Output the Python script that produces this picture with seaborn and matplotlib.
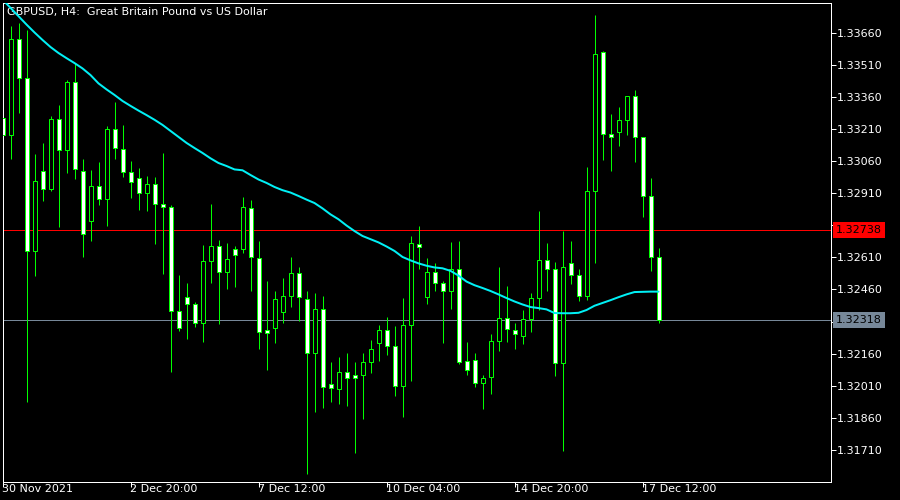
"""
GBPUSD H4 candlestick chart, MetaTrader style.
"""
import matplotlib
matplotlib.use("Agg")
import matplotlib.pyplot as plt
import seaborn as sns
import pandas as pd
import numpy as np

sns.set_theme(style="dark", rc={
    "axes.facecolor": "black",
    "figure.facecolor": "black",
    "axes.edgecolor": "white",
    "text.color": "white",
    "xtick.color": "white",
    "ytick.color": "white",
})
plt.rcParams["font.family"] = ["DejaVu Sans"]

COLORS = {
    "candle": "#00FF00",
    "bull_fill": "black",
    "bear_fill": "white",
    "ma": "#00F0F5",
    "ask": "#FF0000",
    "bid": "#778899",
}

TITLE = "GBPUSD, H4:  Great Britain Pound vs US Dollar"

opens = [1.33260, 1.33181, 1.33629, 1.33447, 1.32639, 1.33015, 1.32928, 1.33257, 1.33110, 1.33428,
         1.33015, 1.32779, 1.32942, 1.32882, 1.33209, 1.33115, 1.33008, 1.32980, 1.32910, 1.32952,
         1.32858, 1.32844, 1.32358, 1.32424, 1.32392, 1.32302, 1.32592, 1.32663, 1.32540, 1.32648,
         1.32648, 1.32839, 1.32606, 1.32269, 1.32279, 1.32353, 1.32428, 1.32536, 1.32417, 1.32162,
         1.32368, 1.32017, 1.31996, 1.32073, 1.32059, 1.32059, 1.32120, 1.32209, 1.32269, 1.32195,
         1.32008, 1.32293, 1.32674, 1.32424, 1.32540, 1.32489, 1.32452, 1.32554, 1.32124, 1.32129,
         1.32022, 1.32050, 1.32218, 1.32325, 1.32269, 1.32241, 1.32321, 1.32419, 1.32596, 1.32554,
         1.32115, 1.32582, 1.32526, 1.32428, 1.32919, 1.33568, 1.33185, 1.33195, 1.33251, 1.33363,
         1.33171, 1.32896, 1.32610]

closes = [1.33182, 1.33629, 1.33447, 1.32639, 1.32966, 1.32928, 1.33257, 1.33110, 1.33428, 1.33022,
          1.32718, 1.32942, 1.32882, 1.33209, 1.33120, 1.33008, 1.32964, 1.32911, 1.32952, 1.32858,
          1.32844, 1.32360, 1.32279, 1.32392, 1.32302, 1.32592, 1.32663, 1.32540, 1.32601, 1.32620,
          1.32844, 1.32610, 1.32260, 1.32255, 1.32414, 1.32428, 1.32536, 1.32425, 1.32163, 1.32368,
          1.32003, 1.31998, 1.32073, 1.32045, 1.32045, 1.32120, 1.32181, 1.32269, 1.32195, 1.32008,
          1.32293, 1.32676, 1.32657, 1.32540, 1.32489, 1.32452, 1.32554, 1.32123, 1.32082, 1.32022,
          1.32045, 1.32218, 1.32325, 1.32274, 1.32251, 1.32321, 1.32419, 1.32596, 1.32554, 1.32115,
          1.32564, 1.32526, 1.32428, 1.32919, 1.33559, 1.33185, 1.33171, 1.33251, 1.33363, 1.33171,
          1.32896, 1.32610, 1.32318]

highs = [1.33289, 1.33691, 1.33707, 1.33673, 1.33093, 1.33143, 1.33269, 1.33321, 1.33439, 1.33517,
         1.33068, 1.33018, 1.33056, 1.33223, 1.33336, 1.33229, 1.33061, 1.33026, 1.32990, 1.32987,
         1.33096, 1.32853, 1.32528, 1.32489, 1.32402, 1.32668, 1.32859, 1.32691, 1.32679, 1.32665,
         1.32892, 1.32878, 1.32688, 1.32500, 1.32454, 1.32514, 1.32612, 1.32565, 1.32453, 1.32442,
         1.32430, 1.32121, 1.32145, 1.32163, 1.32121, 1.32163, 1.32224, 1.32294, 1.32331, 1.32291,
         1.32420, 1.32709, 1.32757, 1.32607, 1.32582, 1.32500, 1.32682, 1.32687, 1.32215, 1.32162,
         1.32061, 1.32251, 1.32565, 1.32475, 1.32302, 1.32364, 1.32442, 1.32827, 1.32677, 1.32588,
         1.32733, 1.32687, 1.32556, 1.33032, 1.33743, 1.33575, 1.33280, 1.33313, 1.33363, 1.33392,
         1.33171, 1.32981, 1.32654]

lows = [1.33168, 1.33070, 1.33283, 1.31936, 1.32524, 1.32875, 1.32922, 1.32752, 1.33006, 1.32976,
        1.32613, 1.32688, 1.32856, 1.32758, 1.33070, 1.32987, 1.32889, 1.32832, 1.32828, 1.32674,
        1.32534, 1.32076, 1.32268, 1.32230, 1.32286, 1.32216, 1.32489, 1.32300, 1.32464, 1.32473,
        1.32632, 1.32454, 1.32183, 1.32085, 1.32209, 1.32302, 1.32380, 1.32314, 1.31596, 1.31889,
        1.31908, 1.31933, 1.31926, 1.31917, 1.31697, 1.31853, 1.32068, 1.32127, 1.32155, 1.31964,
        1.31866, 1.32034, 1.32556, 1.32394, 1.32454, 1.32209, 1.32370, 1.32110, 1.32062, 1.32006,
        1.31903, 1.31973, 1.32174, 1.32216, 1.32183, 1.32207, 1.32263, 1.32364, 1.32454, 1.32057,
        1.31707, 1.32487, 1.32408, 1.32411, 1.32582, 1.33067, 1.33015, 1.33132, 1.33183, 1.33057,
        1.32800, 1.32548, 1.32302]

moving_avg = [1.33815, 1.33776, 1.33737, 1.33698, 1.33661, 1.33626, 1.33593, 1.33565, 1.33541, 1.33518,
              1.33493, 1.33462, 1.33423, 1.33395, 1.33369, 1.33341, 1.33318, 1.33296, 1.33275, 1.33253,
              1.33229, 1.33201, 1.33173, 1.33145, 1.33121, 1.33098, 1.33073, 1.33051, 1.33037, 1.33021,
              1.33017, 1.32995, 1.32974, 1.32958, 1.32939, 1.32924, 1.32913, 1.32897, 1.32880, 1.32864,
              1.32839, 1.32811, 1.32788, 1.32759, 1.32733, 1.32710, 1.32695, 1.32680, 1.32661, 1.32640,
              1.32612, 1.32596, 1.32582, 1.32571, 1.32563, 1.32559, 1.32547, 1.32525, 1.32497, 1.32480,
              1.32467, 1.32453, 1.32437, 1.32420, 1.32404, 1.32390, 1.32378, 1.32373, 1.32367, 1.32350,
              1.32349, 1.32349, 1.32351, 1.32364, 1.32384, 1.32397, 1.32410, 1.32424, 1.32437, 1.32448,
              1.32449, 1.32450, 1.32450]

# bar index of each date label
date_ticks = [0, 16, 32, 48, 64, 80]
date_labels = ["30 Nov 2021", "2 Dec 20:00", "7 Dec 12:00",
               "10 Dec 04:00", "14 Dec 20:00", "17 Dec 12:00"]

price_ticks = [1.33660, 1.33510, 1.33360, 1.33210, 1.33060, 1.32910, 1.32760,
               1.32610, 1.32460, 1.32310, 1.32160, 1.32010, 1.31860, 1.31710]

ask_price = 1.32738
bid_price = 1.32318

df = pd.DataFrame({"open": opens, "high": highs, "low": lows,
                   "close": closes, "ma": moving_avg})
df["bar"] = np.arange(len(df))
bull = df["close"] >= df["open"]

W, H = 900, 500
PX = 72 / 100  # one pixel in points
fig = plt.figure(figsize=(W / 100, H / 100), dpi=100)
# 828 px wide axes over 103.5 bars -> 8 px per bar, centres on pixel centres
ax = fig.add_axes([2.5 / W, 17.7 / H, 828 / W, 479.8 / H])
ax.set_facecolor("black")

# price lines
ax.axhline(ask_price, color=COLORS["ask"], lw=PX, zorder=1)
ax.axhline(bid_price, color=COLORS["bid"], lw=PX, zorder=1)

# candles
ax.vlines(df["bar"], df["low"], df["high"], color=COLORS["candle"],
          lw=PX, zorder=2)
body_low = np.minimum(df["open"], df["close"])
body_h = (df["close"] - df["open"]).abs()
ax.bar(df["bar"], body_h, bottom=body_low, width=0.5,
       color=np.where(bull, COLORS["bull_fill"], COLORS["bear_fill"]),
       edgecolor=COLORS["candle"], linewidth=PX, zorder=3)

# moving average
sns.lineplot(data=df, x="bar", y="ma", color=COLORS["ma"], lw=2 * PX,
             ax=ax, zorder=4)

ax.text(0.0055, 0.980, TITLE, transform=ax.transAxes, fontsize=8,
        color="white", ha="left", va="center", zorder=1.5)

ax.set_xlim(0, 103.5)
ax.set_ylim(1.31559, 1.33801)
ax.set_xlabel("")
ax.set_ylabel("")
ax.grid(False)

ax.set_xticks(date_ticks)
ax.set_xticklabels(date_labels, ha="left")
ax.yaxis.tick_right()
ax.set_yticks(price_ticks)
# scale labels lying under the price boxes are covered, as on the terminal
ax.set_yticklabels([
    "" if min(abs(p - ask_price), abs(p - bid_price)) < 0.0003 else f"{p:.5f}"
    for p in price_ticks])
ax.tick_params(axis="x", bottom=True, length=3.6, width=PX, pad=-2.4,
               labelsize=8, colors="white")
ax.tick_params(axis="y", right=True, left=False, length=3.6, width=PX,
               pad=0.7, labelsize=8, colors="white")
for s in ax.spines.values():
    s.set_color("white")
    s.set_linewidth(PX)

# price labels on the right scale
yax = ax.get_yaxis_transform()
for price, col in [(ask_price, COLORS["ask"]), (bid_price, COLORS["bid"])]:
    ax.text(1.0066, price, f"{price:.5f}", transform=yax, fontsize=8,
            color="black", ha="left", va="center", clip_on=False, zorder=6,
            bbox=dict(boxstyle="square,pad=0.25", fc=col, ec="none"))

fig.savefig("out.png", dpi=100, facecolor="black")
plt.close(fig)
